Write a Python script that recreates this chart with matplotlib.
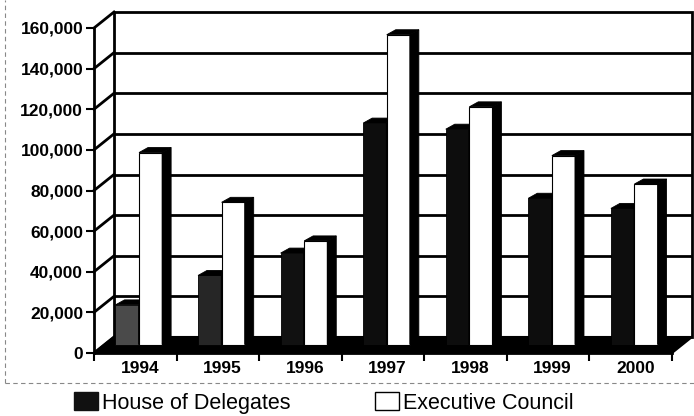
import matplotlib.pyplot as plt
import numpy as np
from matplotlib.lines import Line2D
from matplotlib.patches import Patch, Polygon, Rectangle
from matplotlib.ticker import StrMethodFormatter

plt.rcParams["font.family"] = ["Liberation Sans", "DejaVu Sans"]

years = ["1994", "1995", "1996", "1997", "1998", "1999", "2000"]
house = [19500, 34000, 45000, 109000, 106000, 72000, 67000]
council = [94500, 70000, 51000, 152500, 117000, 93000, 79000]
y_ticks = list(range(0, 160001, 20000))

# scanned halftone makes the first two dark bars look greyish
house_shades = ["#4a4a4a", "#262626", "#111111", "#0d0d0d", "#0d0d0d", "#0d0d0d", "#0d0d0d"]

W, H = 694, 416
fig = plt.figure(figsize=(W / 100, H / 100), dpi=100)

# front plane of the box, in pixels
fx0, fx1, fy0, fy1 = 94, 672, 353, 28
ax = fig.add_axes([fx0 / W, 1 - fy0 / H, (fx1 - fx0) / W, (fy0 - fy1) / H])
n = len(years)
ymax = y_ticks[-1]
ax.set_xlim(0, n)
ax.set_ylim(0, ymax)

px_x = (fx1 - fx0) / n
px_y = (fy0 - fy1) / ymax


def ddx(p):
    return p / px_x


def ddy(p):
    return p / px_y


wall_x, wall_y = ddx(20), ddy(16)

# back wall + gridlines
ax.add_patch(Rectangle((wall_x, wall_y), n, ymax, fc="white", ec="black",
                       lw=2, zorder=1, clip_on=False))
for v in y_ticks[1:-1]:
    ax.plot([wall_x, n + wall_x], [v + wall_y] * 2, color="black", lw=2,
            zorder=1.5, clip_on=False, solid_capstyle="butt")
# side wall diagonals
for v in y_ticks:
    ax.plot([0, wall_x], [v, v + wall_y], color="black", lw=2,
            zorder=1.5, clip_on=False)

# floor slab
ax.add_patch(Polygon([(0, 0), (n, 0), (n + wall_x, wall_y), (wall_x, wall_y)],
                     closed=True, fc="black", ec="black", lw=1.5, zorder=2,
                     clip_on=False))

# bars
idx = np.arange(n)
bw = 0.28
base = ddy(8.5)
side_x, side_y = ddx(9), ddy(5)
hod_x = idx + 0.40
ec_x = idx + 0.685


def faces(xs, vals, z):
    for xc, v in zip(xs, vals):
        xl, xr = xc - bw / 2, xc + bw / 2
        top = base + v
        ax.add_patch(Polygon([(xl, top), (xr, top), (xr + side_x, top + side_y),
                              (xl + side_x, top + side_y)], closed=True,
                             fc="black", ec="black", lw=0.6, zorder=z,
                             clip_on=False))
        ax.add_patch(Polygon([(xr, base), (xr + side_x, base + side_y),
                              (xr + side_x, top + side_y), (xr, top)], closed=True,
                             fc="black", ec="black", lw=0.6, zorder=z,
                             clip_on=False))


ax.bar(hod_x, house, bw, bottom=base, color=house_shades, edgecolor="black",
       lw=0.6, zorder=3, clip_on=False)
faces(hod_x, house, 3.5)
ax.bar(ec_x, council, bw, bottom=base, color="white", edgecolor="black",
       lw=0.8, zorder=4, clip_on=False)
faces(ec_x, council, 4.5)

# axes
for s in ("top", "right"):
    ax.spines[s].set_visible(False)
ax.spines["left"].set_linewidth(2)
ax.spines["bottom"].set_linewidth(2)
ax.spines["left"].set_zorder(5)
ax.spines["bottom"].set_zorder(5)

ax.set_yticks(y_ticks)
ax.yaxis.set_major_formatter(StrMethodFormatter("{x:,.0f}"))
ax.tick_params(axis="y", length=5.8, width=1.5, pad=2, labelsize=12.5)
for lab in ax.get_yticklabels():
    lab.set_fontweight("bold")

ax.set_xticks(np.arange(n + 1))
ax.set_xticklabels([])
ax.tick_params(axis="x", which="major", length=6, width=1.5)
ax.set_xticks(idx + 0.555, minor=True)
ax.set_xticklabels(years, minor=True)
ax.tick_params(axis="x", which="minor", length=0, pad=6, labelsize=12.5)
for lab in ax.get_xticklabels(minor=True):
    lab.set_fontweight("semibold")

# legend
handles = [Patch(fc="#111111", ec="#111111"),
           Patch(fc="white", ec="black", lw=1)]
fig.legend(handles, ["House of Delegates", "Executive Council"], loc="center",
           bbox_to_anchor=(324 / W, 1 - 403 / H), ncol=2, frameon=False,
           fontsize=15.5, handlelength=1.1, handleheight=0.85,
           handletextpad=0.2, columnspacing=3.9, borderpad=0)

# faint scanned frame
fy = 1 - 383 / H
fig.add_artist(Line2D([5 / W, 5 / W], [fy, 1], transform=fig.transFigure,
                      color="#888888", lw=0.8, ls=(0, (4, 3))))
fig.add_artist(Line2D([5 / W, 1], [fy, fy], transform=fig.transFigure,
                      color="#888888", lw=0.8, ls=(0, (4, 3))))

fig.savefig("out.png", dpi=100)
